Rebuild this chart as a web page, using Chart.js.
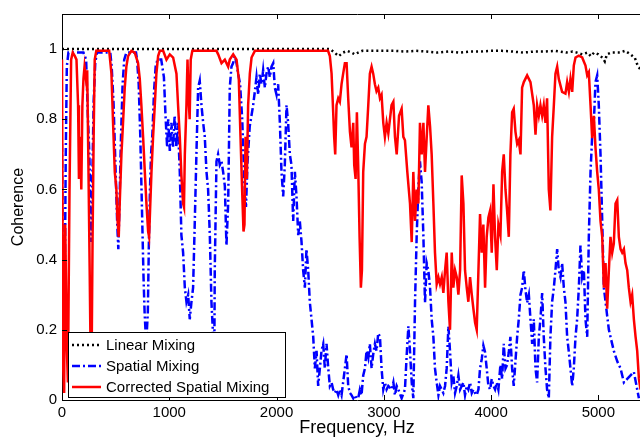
<!DOCTYPE html>
<html>
<head>
<meta charset="utf-8">
<script src="https://cdn.jsdelivr.net/npm/chart.js@4/dist/chart.umd.min.js"></script>
<style>
  html, body { margin: 0; padding: 0; overflow: hidden; background: #fff; }
  #wrap { width: 652px; height: 440px; }
</style>
</head>
<body>
<div id="wrap"><canvas id="coherenceChart"></canvas></div>
<script>
// [frequency Hz, coherence]
const linearMixing = [
  [0,1],[100,1],[200,1],[300,1],[400,1],[500,1],[600,1],[700,1],[800,1],[900,1],[1000,1],
  [1100,1],[1200,1],[1300,1],[1400,1],[1500,1],[1600,1],[1700,1],[1800,1],[1900,1],[2000,1],
  [2100,1],[2200,1],[2300,1],[2400,1],[2500,1],[2540,0.99],[2580,0.98],[2620,0.99],[2660,0.995],
  [2700,0.99],[2730,0.985],[2760,0.99],[2800,0.995],[2900,0.995],[3000,0.995],[3100,0.995],
  [3200,0.993],[3300,0.995],[3400,0.993],[3500,0.99],[3600,0.993],[3700,0.99],[3800,0.993],
  [3900,0.993],[4000,0.995],[4100,0.995],[4200,0.993],[4300,0.99],[4400,0.993],[4500,0.993],
  [4600,0.995],[4700,0.99],[4760,0.993],[4800,0.99],[4850,0.985],[4900,0.99],[4930,0.98],
  [4960,0.99],[5000,0.985],[5040,0.975],[5060,0.965],[5080,0.985],[5120,0.99],[5200,0.99],
  [5250,0.995],[5300,0.985],[5340,0.975],[5370,0.95],[5400,0.94]
];

const spatialMixing = [
  [0,0.73],[8,0.35],[15,0.12],[25,0.3],[35,0.7],[45,0.95],[60,0.99],[200,0.99],[225,0.97],
  [240,0.82],[255,0.7],[265,0.55],[272,0.45],[282,0.62],[295,0.85],[310,0.96],[325,0.99],
  [450,0.99],[463,0.95],[480,0.85],[495,0.7],[505,0.6],[515,0.5],[525,0.43],[535,0.55],
  [550,0.75],[565,0.9],[580,0.97],[600,0.99],[690,0.99],[700,0.97],[715,0.9],[730,0.75],
  [745,0.55],[760,0.35],[770,0.25],[778,0.2],[790,0.19],[800,0.25],[810,0.45],[820,0.6],
  [830,0.7],[843,0.76],[858,0.88],[873,0.95],[890,0.97],[925,0.97],[950,0.92],[965,0.81],
  [980,0.72],[990,0.8],[1005,0.71],[1020,0.79],[1035,0.72],[1050,0.81],[1065,0.72],[1080,0.79],
  [1098,0.65],[1113,0.47],[1129,0.42],[1145,0.32],[1160,0.28],[1176,0.3],[1191,0.23],[1207,0.28],
  [1222,0.32],[1238,0.51],[1253,0.7],[1269,0.89],[1284,0.91],[1300,0.84],[1316,0.79],[1331,0.75],
  [1347,0.65],[1362,0.6],[1378,0.47],[1393,0.28],[1409,0.18],[1418,0.02],[1424,0.37],[1440,0.68],
  [1455,0.7],[1471,0.67],[1487,0.68],[1502,0.65],[1518,0.61],[1533,0.44],[1549,0.56],[1564,0.89],
  [1580,0.95],[1595,0.96],[1611,0.98],[1627,0.96],[1642,0.93],[1660,0.9],[1680,0.8],[1700,0.62],
  [1715,0.55],[1730,0.68],[1750,0.78],[1782,0.84],[1798,0.88],[1813,0.92],[1829,0.87],[1844,0.93],
  [1860,0.9],[1875,0.94],[1891,0.89],[1906,0.93],[1922,0.95],[1937,0.92],[1953,0.95],[1969,0.96],
  [1984,0.89],[2000,0.87],[2015,0.9],[2031,0.79],[2046,0.65],[2062,0.58],[2077,0.67],[2093,0.84],
  [2108,0.79],[2124,0.7],[2139,0.67],[2155,0.51],[2171,0.65],[2186,0.58],[2202,0.47],[2217,0.51],
  [2233,0.45],[2248,0.37],[2264,0.32],[2279,0.43],[2295,0.37],[2310,0.28],[2326,0.23],[2342,0.18],
  [2357,0.09],[2373,0.14],[2388,0.04],[2404,0.09],[2419,0.14],[2435,0.16],[2450,0.09],[2466,0.16],
  [2482,0.09],[2497,0.04],[2513,0.05],[2528,0.03],[2544,0.02],[2559,0.03],[2575,0.014],[2590,0.03],
  [2606,0.014],[2637,0.09],[2653,0.13],[2668,0.04],[2684,0.02],[2699,0.014],[2715,0.005],[2730,0.014],
  [2746,0.005],[2761,0.005],[2777,0.03],[2792,0.014],[2808,0.07],[2824,0.09],[2839,0.14],[2855,0.12],
  [2870,0.16],[2886,0.09],[2901,0.13],[2917,0.16],[2932,0.14],[2948,0.19],[2964,0.18],[2979,0.09],
  [2995,0.03],[3010,0.05],[3026,0.03],[3042,0.04],[3073,0.03],[3089,0.05],[3104,0.014],[3120,0.04],
  [3135,0.03],[3166,0.005],[3197,0.03],[3213,0.127],[3229,0.21],[3244,0.14],[3260,0.05],[3275,0.005],
  [3291,0.28],[3306,0.465],[3322,0.605],[3337,0.68],[3353,0.62],[3369,0.465],[3384,0.277],[3400,0.39],
  [3415,0.37],[3431,0.32],[3446,0.23],[3462,0.18],[3477,0.09],[3493,0.05],[3509,0.014],[3524,0.04],
  [3540,0.03],[3555,0.02],[3571,0.04],[3586,0.09],[3602,0.21],[3617,0.14],[3633,0.05],[3648,0.07],
  [3664,0.02],[3680,0.04],[3695,0.07],[3711,0.03],[3726,0.04],[3742,0.05],[3757,0.014],[3773,0.04],
  [3788,0.03],[3804,0.05],[3820,0.02],[3835,0.03],[3851,0.02],[3866,0.014],[3882,0.03],[3897,0.09],
  [3913,0.117],[3928,0.155],[3944,0.136],[3959,0.09],[3975,0.04],[3991,0.03],[4006,0.06],[4022,0.04],
  [4037,0.03],[4053,0.05],[4068,0.03],[4087,0.1],[4103,0.06],[4118,0.16],[4134,0.09],[4149,0.1],
  [4165,0.136],[4180,0.18],[4196,0.09],[4211,0.04],[4243,0.18],[4258,0.23],[4274,0.3],[4289,0.32],
  [4305,0.37],[4320,0.315],[4336,0.277],[4352,0.3],[4367,0.23],[4383,0.16],[4398,0.23],[4414,0.09],
  [4429,0.05],[4445,0.18],[4460,0.23],[4476,0.305],[4491,0.18],[4507,0.09],[4522,0.03],[4538,0.005],
  [4553,0.18],[4569,0.28],[4585,0.32],[4600,0.37],[4616,0.43],[4631,0.37],[4647,0.35],[4662,0.39],
  [4678,0.32],[4693,0.28],[4709,0.18],[4725,0.136],[4740,0.09],[4756,0.04],[4771,0.09],[4787,0.18],
  [4802,0.23],[4818,0.32],[4833,0.44],[4849,0.35],[4865,0.37],[4880,0.23],[4896,0.18],[4911,0.465],
  [4927,0.65],[4942,0.75],[4958,0.79],[4973,0.906],[4989,0.925],[5004,0.84],[5020,0.7],[5036,0.51],
  [5051,0.32],[5067,0.28],[5082,0.24],[5098,0.2],[5113,0.18],[5144,0.14],[5176,0.11],[5207,0.09],
  [5238,0.05],[5269,0.06],[5300,0.07],[5331,0.08],[5362,0.03],[5378,0.005]
];

const correctedSpatialMixing = [
  [0,0.97],[10,0.1],[20,0.02],[30,0.5],[45,0.15],[55,0.05],[70,0.6],[85,0.97],[100,0.99],
  [120,0.98],[135,0.97],[150,0.84],[158,0.63],[170,0.75],[180,0.6],[190,0.84],[200,0.915],
  [210,0.95],[225,0.91],[235,0.94],[245,0.7],[258,0.37],[268,0.09],[274,0.03],[285,0.46],
  [295,0.75],[305,0.97],[320,0.995],[440,0.995],[461,0.93],[476,0.79],[492,0.65],[507,0.6],
  [516,0.52],[529,0.465],[538,0.56],[554,0.7],[569,0.79],[585,0.89],[600,0.95],[616,0.98],
  [647,0.995],[678,0.99],[709,0.96],[725,0.915],[740,0.84],[756,0.75],[772,0.65],[787,0.56],
  [803,0.48],[812,0.465],[821,0.54],[834,0.65],[849,0.75],[865,0.84],[880,0.93],[896,0.98],
  [912,0.995],[943,0.995],[974,0.97],[1005,0.985],[1036,0.976],[1067,0.93],[1082,0.84],[1098,0.75],
  [1113,0.64],[1129,0.56],[1137,0.55],[1145,0.7],[1160,0.84],[1170,0.97],[1180,0.86],[1190,0.8],
  [1200,0.97],[1215,0.995],[1440,0.995],[1456,0.985],[1487,0.96],[1518,0.97],[1549,0.95],[1564,0.97],
  [1596,0.985],[1627,0.97],[1648,0.915],[1664,0.75],[1679,0.6],[1692,0.48],[1701,0.5],[1711,0.75],
  [1723,0.63],[1735,0.84],[1751,0.93],[1767,0.976],[1798,0.995],[2480,0.995],[2497,0.98],[2513,0.93],
  [2528,0.82],[2537,0.75],[2547,0.7],[2559,0.84],[2575,0.86],[2590,0.85],[2606,0.9],[2621,0.93],
  [2637,0.96],[2653,0.96],[2668,0.86],[2684,0.765],[2699,0.72],[2715,0.79],[2724,0.67],[2737,0.63],
  [2749,0.82],[2761,0.67],[2774,0.465],[2786,0.32],[2796,0.37],[2808,0.65],[2824,0.73],[2839,0.75],
  [2855,0.84],[2870,0.93],[2886,0.95],[2901,0.93],[2917,0.9],[2932,0.88],[2948,0.89],[2964,0.86],
  [2979,0.87],[2995,0.79],[3010,0.75],[3026,0.79],[3042,0.76],[3057,0.8],[3072,0.84],[3089,0.85],
  [3104,0.75],[3120,0.7],[3142,0.81],[3166,0.83],[3182,0.75],[3197,0.74],[3219,0.65],[3244,0.56],
  [3260,0.45],[3275,0.65],[3291,0.51],[3306,0.6],[3322,0.56],[3337,0.79],[3353,0.7],[3369,0.79],
  [3384,0.65],[3400,0.75],[3415,0.84],[3431,0.78],[3446,0.7],[3462,0.56],[3477,0.42],[3493,0.33],
  [3509,0.35],[3524,0.33],[3540,0.35],[3555,0.305],[3571,0.37],[3586,0.42],[3602,0.28],[3617,0.2],
  [3633,0.42],[3648,0.32],[3664,0.37],[3680,0.35],[3695,0.3],[3711,0.37],[3726,0.64],[3742,0.56],
  [3757,0.37],[3773,0.32],[3788,0.28],[3804,0.35],[3820,0.3],[3835,0.26],[3851,0.22],[3866,0.2],
  [3882,0.37],[3897,0.53],[3913,0.42],[3928,0.5],[3944,0.32],[3959,0.465],[3975,0.52],[3991,0.54],
  [4006,0.42],[4022,0.615],[4037,0.465],[4053,0.37],[4068,0.5],[4087,0.47],[4103,0.65],[4118,0.7],
  [4134,0.6],[4149,0.54],[4165,0.465],[4180,0.7],[4196,0.82],[4211,0.83],[4227,0.765],[4243,0.73],
  [4258,0.74],[4274,0.7],[4289,0.89],[4305,0.906],[4336,0.925],[4367,0.906],[4398,0.84],[4414,0.756],
  [4429,0.84],[4445,0.81],[4460,0.84],[4476,0.81],[4491,0.84],[4507,0.79],[4522,0.86],[4538,0.6],
  [4553,0.54],[4569,0.75],[4585,0.84],[4600,0.93],[4616,0.95],[4631,0.915],[4662,0.878],[4693,0.873],
  [4709,0.906],[4725,0.878],[4740,0.915],[4756,0.878],[4771,0.953],[4787,0.976],[4818,0.981],[4849,0.976],
  [4880,0.953],[4896,0.925],[4911,0.934],[4927,0.84],[4942,0.746],[4958,0.81],[4973,0.72],[4989,0.65],
  [5004,0.6],[5020,0.51],[5036,0.465],[5051,0.32],[5067,0.39],[5082,0.26],[5098,0.37],[5113,0.465],
  [5129,0.42],[5144,0.446],[5160,0.56],[5176,0.57],[5191,0.465],[5207,0.43],[5222,0.42],[5238,0.43],
  [5253,0.39],[5269,0.37],[5284,0.32],[5300,0.28],[5315,0.3],[5331,0.23],[5347,0.18],[5362,0.14],
  [5378,0.06],[5393,0.03]
];

const xTickValues = [0, 1000, 2000, 3000, 4000, 5000];
const yTickValues = [0, 0.2, 0.4, 0.6, 0.8, 1];

const toPoints = (rows) => rows.map(([f, c]) => ({ x: f, y: c }));

Chart.defaults.font.family = '"Liberation Sans", Arial, Helvetica, sans-serif';
Chart.defaults.color = "#000";

// MATLAB-style ticks pointing into the axes box
const inwardTicks = {
  id: "inwardTicks",
  afterDatasetsDraw(chart) {
    const { ctx, chartArea: area, scales } = chart;
    ctx.save();
    ctx.strokeStyle = "#000";
    ctx.lineWidth = 1;
    ctx.beginPath();
    xTickValues.forEach((v) => {
      const px = Math.round(scales.x.getPixelForValue(v)) + 0.5;
      ctx.moveTo(px, area.bottom);
      ctx.lineTo(px, area.bottom - 5);
      ctx.moveTo(px, area.top);
      ctx.lineTo(px, area.top + 5);
    });
    yTickValues.forEach((v) => {
      const py = Math.round(scales.y.getPixelForValue(v)) + 0.5;
      ctx.moveTo(area.left, py);
      ctx.lineTo(area.left + 5, py);
    });
    ctx.stroke();
    ctx.restore();
  },
};

// boxed legend in the lower-left corner of the plot
const boxLegend = {
  id: "boxLegend",
  afterDraw(chart) {
    const { ctx, chartArea: area } = chart;
    const left = area.left + 6;
    const top = area.bottom - 68;
    const w = 217;
    const h = 65;
    ctx.save();
    ctx.fillStyle = "#fff";
    ctx.fillRect(left, top, w, h);
    ctx.strokeStyle = "#000";
    ctx.lineWidth = 1;
    ctx.strokeRect(left + 0.5, top + 0.5, w, h);
    ctx.font = '15px "Liberation Sans", Arial, sans-serif';
    ctx.textBaseline = "middle";
    chart.data.datasets.forEach((ds, i) => {
      const yy = top + 13 + i * 21;
      ctx.strokeStyle = ds.borderColor;
      ctx.lineWidth = ds.borderWidth;
      ctx.setLineDash(ds.borderDash || []);
      ctx.beginPath();
      ctx.moveTo(left + 4, yy);
      ctx.lineTo(left + 33, yy);
      ctx.stroke();
      ctx.setLineDash([]);
      ctx.fillStyle = "#000";
      ctx.fillText(ds.label, left + 38, yy + 1);
    });
    ctx.restore();
  },
};

const ctx = document.getElementById("coherenceChart").getContext("2d");
new Chart(ctx, {
  type: "line",
  data: {
    datasets: [
      {
        label: "Linear Mixing",
        data: toPoints(linearMixing),
        borderColor: "#000000",
        borderWidth: 2.5,
        borderDash: [2, 3],
        order: 2,
      },
      {
        label: "Spatial Mixing",
        data: toPoints(spatialMixing),
        borderColor: "#0000ff",
        borderWidth: 2.5,
        borderDash: [8, 3, 2, 3],
        order: 1,
      },
      {
        label: "Corrected Spatial Mixing",
        data: toPoints(correctedSpatialMixing),
        borderColor: "#ff0000",
        borderWidth: 2.5,
        order: 0,
      },
    ],
  },
  options: {
    responsive: true,
    maintainAspectRatio: false,
    animation: false,
    layout: { padding: 0 },
    elements: { point: { radius: 0 }, line: { tension: 0 } },
    plugins: { legend: { display: false }, tooltip: { enabled: false } },
    scales: {
      x: {
        type: "linear",
        position: "bottom",
        min: 0,
        max: 5500,
        afterBuildTicks: (s) => {
          s.ticks = xTickValues.map((v) => ({ value: v }));
        },
        afterFit: (s) => {
          s.height = 40;
        },
        grid: { display: false, drawTicks: false },
        border: { color: "#000", width: 1 },
        ticks: {
          font: { size: 15 },
          padding: 4,
          maxRotation: 0,
          autoSkip: false,
          callback: (v) => String(v),
        },
        title: {
          display: true,
          text: "Frequency, Hz",
          font: { size: 18 },
          padding: { top: 0, bottom: 1 },
        },
      },
      x2: {
        type: "linear",
        position: "top",
        min: 0,
        max: 5500,
        grid: { display: false, drawTicks: false },
        border: { color: "#000", width: 1 },
        ticks: { display: false },
        afterFit: (s) => {
          s.height = 10;
        },
      },
      y: {
        min: 0,
        max: 1.1,
        afterBuildTicks: (s) => {
          s.ticks = yTickValues.map((v) => ({ value: v }));
        },
        afterFit: (s) => {
          s.width = 62;
        },
        grid: { display: false, drawTicks: false },
        border: { color: "#000", width: 1 },
        ticks: {
          font: { size: 15 },
          padding: 5,
          callback: (v) => String(+v.toFixed(1)),
        },
        title: {
          display: true,
          text: "Coherence",
          font: { size: 16 },
          padding: { top: 9, bottom: 0 },
        },
      },
    },
  },
  plugins: [inwardTicks, boxLegend],
});
</script>
</body>
</html>
